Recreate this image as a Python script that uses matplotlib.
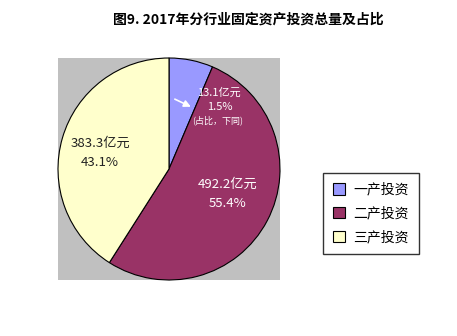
import matplotlib.pyplot as plt

plt.rcParams['font.family'] = ['Noto Sans CJK SC', 'DejaVu Sans']

title = '图9. 2017年分行业固定资产投资总量及占比'
categories = ['一产投资', '二产投资', '三产投资']
amounts = [13.1, 492.2, 383.3]        # 亿元
shares = [1.5, 55.4, 43.1]            # %
# wedge sizes as drawn in the picture (first slice is enlarged for visibility)
wedge_sizes = [60.0, 492.2, 383.3]
colors = ['#9999FF', '#993366', '#FFFFCC']

fig = plt.figure(figsize=(4.57, 3.36), dpi=100)
fig.patch.set_facecolor('white')
ax = fig.add_axes([58/457, 1-280/336, 222/457, 222/336])

ax.pie(wedge_sizes, colors=colors, startangle=90, counterclock=False,
       radius=1.0, wedgeprops=dict(edgecolor='black', linewidth=0.8))
ax.set_xlim(-1.0, 1.0)
ax.set_ylim(-1.0, 1.0)
ax.set_aspect('equal')
ax.set_frame_on(True)
ax.set_facecolor('#C0C0C0')
ax.set_xticks([])
ax.set_yticks([])
for s in ax.spines.values():
    s.set_visible(False)

fs = 9.5
# first industry label with arrow
ax.text(0.45, 0.69, f'{amounts[0]}亿元', color='white', fontsize=8, ha='center', va='center')
ax.text(0.46, 0.56, f'{shares[0]}%', color='white', fontsize=8, ha='center', va='center')
ax.text(0.44, 0.44, '(占比，下同)', color='white', fontsize=6.5, ha='center', va='center')
ax.annotate('', xy=(0.22, 0.55), xytext=(0.03, 0.64),
            arrowprops=dict(arrowstyle='-|>', color='white', lw=1.2, mutation_scale=10))
# second industry
ax.text(0.53, -0.14, f'{amounts[1]}亿元', color='white', fontsize=fs, ha='center', va='center')
ax.text(0.53, -0.31, f'{shares[1]}%', color='white', fontsize=fs, ha='center', va='center')
# third industry
ax.text(-0.62, 0.23, f'{amounts[2]}亿元', color='#222222', fontsize=fs, ha='center', va='center')
ax.text(-0.62, 0.055, f'{shares[2]}%', color='#222222', fontsize=fs, ha='center', va='center')

fig.text(248/457, 1-20/336, title, ha='center', va='center', fontsize=10, fontweight='bold')

handles = [plt.Rectangle((0, 0), 1, 1, facecolor=c, edgecolor='black', linewidth=0.8) for c in colors]
leg = fig.legend(handles, categories, loc='upper left',
                 bbox_to_anchor=(323/457, 1-173/336), borderaxespad=0, fontsize=10,
                 frameon=True, fancybox=False, handlelength=0.9, handleheight=0.9,
                 handletextpad=0.6, labelspacing=0.7, borderpad=0.7)
leg.get_frame().set_edgecolor('black')
leg.get_frame().set_linewidth(1.0)

fig.savefig('out.png', dpi=100)
